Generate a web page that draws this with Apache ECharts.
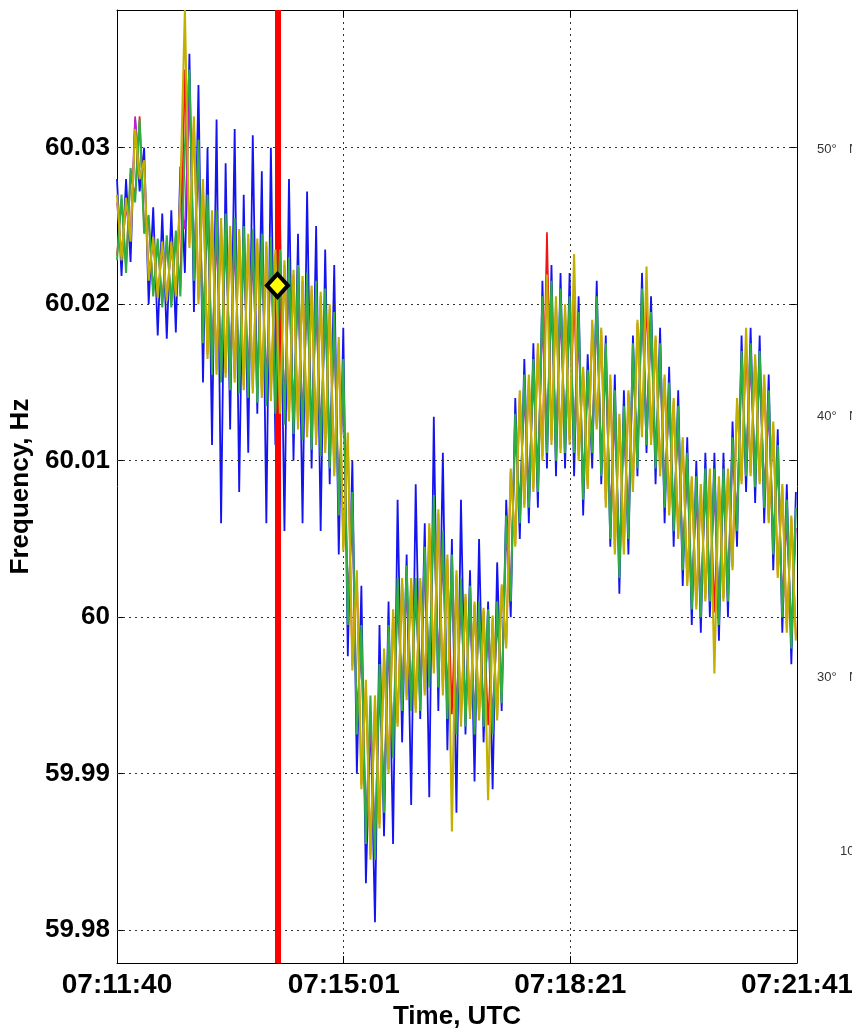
<!DOCTYPE html>
<html><head><meta charset="utf-8">
<script src="https://cdn.jsdelivr.net/npm/echarts@6/dist/echarts.min.js"></script>
<style>html,body{margin:0;padding:0;background:#fff;}#chart{width:852px;height:1028px;}</style>
</head><body><div id="chart"></div>
<script>
// ---- data (time in seconds after 07:11:40 UTC, frequency in Hz) ----
const timeTickLabels = ['07:11:40', '07:15:01', '07:18:21', '07:21:41'];
const timeSpan = 601;
const freqTickValues = [59.98, 59.99, 60, 60.01, 60.02, 60.03];
const freqTickLabels = ['59.98', '59.99', '60', '60.01', '60.02', '60.03'];
const freqMin = 59.9779, freqMax = 60.0388;
const latLabels = ['50°', '40°', '30°'];
const markerTime = 141.8;
const markerFreq = 60.0212;

const times = [0,4,8,12,16,20,24,28,32,36,40,44,48,52,56,60,64,68,72,76,80,84,88,92,96,100,104,108,112,116,120,124,128,132,136,140,144,148,152,156,160,164,168,172,176,180,184,188,192,196,200,204,208,212,216,220,224,228,232,236,240,244,248,252,256,260,264,268,272,276,280,284,288,292,296,300,304,308,312,316,320,324,328,332,336,340,344,348,352,356,360,364,368,372,376,380,384,388,392,396,400,404,408,412,416,420,424,428,432,436,440,444,448,452,456,460,464,468,472,476,480,484,488,492,496,500,504,508,512,516,520,524,528,532,536,540,544,548,552,556,560,564,568,572,576,580,584,588,592,596,600];

const blueHz = [60.028,60.0218,60.028,60.0227,60.0318,60.0272,60.03,60.02,60.0262,60.018,60.0258,60.0178,60.026,60.0182,60.0288,60.022,60.036,60.0195,
60.034,60.015,60.03,60.011,60.0318,60.006,60.029,60.012,60.0312,60.008,60.027,60.0105,60.0308,60.013,60.0285,60.006,60.03,60.011,60.026,60.0055,60.028,60.01,60.0245,60.006,60.0272,60.0095,60.025,60.0055,60.0235,60.0085,60.0225,60.004,60.0185,
59.9975,60.01,59.99,60.002,59.983,59.994,59.9805,59.9995,
59.986,60.001,59.9855,60.0075,59.992,60.004,59.988,60.0085,59.9935,60.006,59.9885,60.0128,59.994,60.0105,59.9915,60.005,59.9875,60.0075,59.9925,60.003,59.9895,60.005,59.992,60.001,59.989,60.0035,59.994,
60.0075,60,60.014,60.005,60.0165,60.006,60.0175,60.007,60.0215,60.0095,60.0225,60.009,60.022,60.0095,60.022,60.009,60.0205,60.0065,60.0168,60.0095,60.0215,60.0085,60.018,60.0045,60.0155,60.0015,60.0145,60.004,60.018,60.009,60.022,60.0105,60.0205,60.0085,60.0185,60.006,60.016,60.0045,60.0145,60.002,60.0115,59.9995,60.01,59.999,60.0105,60,60.0105,59.9985,60.0105,60,60.0125,60.0045,60.018,60.008,60.0185,60.0073,60.018,60.006,60.0155,60.003,60.012,59.999,60.0085,59.997,60.008];

const redHz = [60.0231,60.0267,60.0224,60.0283,60.0269,60.032,60.0249,60.0254,60.0208,60.0239,60.0201,60.0241,60.0201,60.0244,60.021,60.035,60.0239,60.0317,60.0203,60.0277,60.0168,60.0257,60.0158,60.0252,60.0156,60.0247,60.0153,60.0245,60.0148,60.0242,60.0146,60.0239,60.0143,60.0237,60.0141,60.0232,60.0133,60.0225,60.0128,60.0219,60.0123,60.0215,60.0118,60.0209,60.0113,60.0205,60.0108,60.0197,60.0093,60.0176,60.0045,60.0115,59.9969,60.0027,59.9893,59.9957,59.9848,59.9947,59.9868,59.9977,59.9903,60.0003,59.9932,60.0023,59.995,60.0023,59.9942,60.0023,59.9952,60.0057,59.9967,60.0066,59.9953,60.0037,59.9938,60.0027,59.9933,60.0013,59.9937,60.0008,59.9936,60.0004,59.9931,59.9999,59.9936,60.0019,59.9982,60.0093,60.0047,60.0143,60.0072,60.0153,60.0082,60.0173,60.0103,60.0246,60.0113,60.0202,60.0108,60.0198,60.0113,60.0207,60.0103,60.0158,60.0084,60.0188,60.0122,60.0183,60.0073,60.0152,60.0043,60.0127,60.0043,60.0143,60.0083,60.0188,60.0118,60.0203,60.0112,60.0178,60.0092,60.0153,60.0067,60.0138,60.0052,60.0113,60.0022,60.0088,60.0007,60.0083,60.0012,60.0093,60.0003,60.0088,60.0012,60.0093,60.0032,60.0138,60.0087,60.0173,60.0092,60.0166,60.0087,60.0153,60.0062,60.0123,60.0027,60.0083,59.9992,60.0063,59.9987];

const magentaHz = [60.0265,60.0232,60.0262,60.0243,60.032,60.0283,60.0288,60.0219,60.0239,60.0207,60.0235,60.0205,60.0236,60.0208,60.0265,60.0248,60.0332,60.0229,60.0288,60.0189,60.0253,60.0169,60.0243,60.0164,60.0241,60.0159,60.0238,60.0157,60.0233,60.0154,60.0231,60.0151,60.0228,60.0149,60.0226,60.0144,60.0218,60.0137,60.0213,60.0131,60.0208,60.0127,60.0203,60.0121,60.0198,60.0117,60.0193,60.0109,60.0178,60.008,60.0145,60.0011,60.0062,59.9939,59.9979,59.9869,59.9933,59.9859,59.9953,59.9889,59.998,59.9922,60.001,59.9951,60.002,59.9951,60.0012,59.9951,60.003,59.9969,60.006,59.997,60.0039,59.9949,60.0024,59.9939,60.001,59.9941,60.0007,59.9936,59.9998,59.994,59.9993,59.9935,59.9998,59.9955,60.0052,60.0021,60.0117,60.0071,60.0142,60.0081,60.0152,60.0093,60.0189,60.012,60.0199,60.0114,60.0194,60.0118,60.019,60.0119,60.018,60.0086,60.0146,60.0116,60.0192,60.0103,60.0159,60.0064,60.0129,60.0039,60.012,60.0063,60.016,60.0108,60.0195,60.0123,60.0182,60.0106,60.0162,60.0081,60.0137,60.0066,60.0122,60.0041,60.0092,60.0016,60.0077,60.0011,60.0082,60.0021,60.008,60.0008,60.0082,60.0021,60.0102,60.0066,60.0157,60.0101,60.0162,60.0094,60.0157,60.0081,60.0132,60.0051,60.0097,60.0011,60.0062,59.9991,60.0057];

const greenHz = [60.0228,60.027,60.022,60.0287,60.0265,60.0318,60.0245,60.0257,60.0205,60.0242,60.0198,60.0244,60.0198,60.0247,60.0205,60.03,60.035,60.0215,60.0305,60.0175,60.027,60.0155,60.026,60.015,60.0258,60.0145,60.0255,60.0143,60.025,60.014,60.0248,60.0137,60.0245,60.0135,60.0243,60.013,60.0235,60.0123,60.023,60.0117,60.0225,60.0113,60.022,60.0107,60.0215,60.0103,60.021,60.0095,60.0195,60.0065,60.0165,59.9995,60.008,59.9925,59.9995,59.9855,59.995,59.9845,59.997,59.9875,59.9995,59.991,60.0025,59.994,60.0033,59.994,60.0025,59.994,60.0045,59.9955,60.0078,59.9955,60.0055,59.9935,60.004,59.9925,60.0025,59.993,60.002,59.9925,60.001,59.993,60.0005,59.9925,60.001,59.9945,60.0065,60.001,60.013,60.006,60.0155,60.007,60.0165,60.008,60.0205,60.0105,60.0215,60.01,60.021,60.0105,60.0205,60.0105,60.0195,60.0075,60.0158,60.0105,60.0205,60.009,60.0175,60.005,60.0145,60.0025,60.0135,60.005,60.0175,60.0095,60.021,60.011,60.0195,60.0095,60.0175,60.007,60.015,60.0055,60.0135,60.003,60.0105,60.0005,60.009,60,60.0095,60.001,60.0095,59.9995,60.0095,60.001,60.0115,60.0055,60.017,60.009,60.0175,60.0083,60.017,60.007,60.0145,60.004,60.011,60,60.0075,59.998,60.007];

const oliveHz = [60.027,60.0228,60.0268,60.024,60.0312,60.028,60.0292,60.0215,60.0243,60.0204,60.024,60.0202,60.024,60.0205,60.0272,60.0388,60.0236,60.032,60.02,60.028,60.0165,60.026,60.0155,60.0255,60.0153,60.025,60.015,60.0248,60.0145,60.0245,60.0143,60.0242,60.014,60.024,60.0138,60.0235,60.013,60.0228,60.0125,60.0222,60.012,60.0218,60.0115,60.0212,60.011,60.0208,60.0105,60.02,60.009,60.0179,60.0042,60.0118,59.9966,60.003,59.989,59.996,59.9845,59.995,59.9865,59.998,59.99,60.0005,59.993,60.0025,59.9947,60.0025,59.9939,60.0025,59.995,60.006,59.9964,60.0069,59.995,60.004,59.9863,60.003,59.993,60.0015,59.9935,60.001,59.9934,60.0006,59.9883,60.0001,59.9934,60.0021,59.998,60.0095,60.0045,60.0145,60.007,60.0155,60.008,60.0175,60.01,60.0219,60.011,60.0205,60.0105,60.02,60.011,60.0232,60.01,60.016,60.0082,60.019,60.012,60.0185,60.007,60.0155,60.004,60.013,60.004,60.0145,60.008,60.019,60.0115,60.0224,60.011,60.018,60.009,60.0155,60.0065,60.014,60.005,60.0115,60.002,60.009,60.0005,60.0085,60.001,60.0095,59.9964,60.009,60.001,60.0095,60.003,60.014,60.0085,60.0185,60.009,60.0168,60.0085,60.0155,60.006,60.0125,60.0025,60.0085,59.999,60.0065,59.9985];

// ---- chart ----
const FONT = 'Liberation Sans, Arial, Helvetica, sans-serif';
const pairs = arr => times.map((t, i) => [t, arr[i]]);
const lineSeries = (name, arr, color, width, z) => ({
  name, type: 'line', data: pairs(arr), showSymbol: false, symbol: 'none',
  lineStyle: { color, width }, z, silent: true, animation: false, sampling: null
});
const labelFor = v => {
  for (let k = 0; k < freqTickValues.length; k++) if (Math.abs(freqTickValues[k] - v) < 1e-6) return freqTickLabels[k];
  return '';
};
const tickStep = timeSpan / 3;

const chart = echarts.init(document.getElementById('chart'), null, { renderer: 'canvas' });
chart.setOption({
  animation: false,
  backgroundColor: '#fff',
  grid: { left: 117, right: 55, top: 10, bottom: 65, show: false, outerBoundsMode: 'none', containLabel: false },
  xAxis: [{
    type: 'value', min: 0, max: timeSpan, interval: tickStep, position: 'bottom',
    name: 'Time, UTC', nameLocation: 'middle', nameGap: 37,
    nameTextStyle: { fontFamily: FONT, fontWeight: 'bold', fontSize: 26, color: '#000' },
    axisLine: { show: true, onZero: false, lineStyle: { color: '#000', width: 1 } },
    axisTick: { show: true, inside: true, length: 7, lineStyle: { color: '#000' } },
    axisLabel: { show: true, margin: 8, fontFamily: FONT, fontWeight: 'bold', fontSize: 28, color: '#000',
      showMinLabel: true, showMaxLabel: true,
      formatter: v => timeTickLabels[Math.round(v / tickStep)] || '' },
    splitLine: { show: true, lineStyle: { color: '#333', width: 1, type: [2, 4] } }
  }, {
    type: 'value', min: 0, max: timeSpan, interval: tickStep, position: 'top',
    axisLine: { show: true, onZero: false, lineStyle: { color: '#000', width: 1 } },
    axisTick: { show: true, inside: true, length: 7, lineStyle: { color: '#000' } },
    axisLabel: { show: false }, splitLine: { show: false }
  }],
  yAxis: [{
    type: 'value', min: freqMin, max: freqMax, position: 'left',
    name: 'Frequency, Hz', nameLocation: 'middle', nameGap: 82,
    nameTextStyle: { fontFamily: FONT, fontWeight: 'bold', fontSize: 26, color: '#000' },
    axisLine: { show: true, onZero: false, lineStyle: { color: '#000', width: 1 } },
    axisTick: { show: true, inside: true, length: 7, customValues: freqTickValues, lineStyle: { color: '#000' } },
    axisLabel: { show: true, margin: 7, customValues: freqTickValues, fontFamily: FONT, fontWeight: 'bold', fontSize: 26, color: '#000',
      formatter: v => labelFor(v) },
    splitLine: { show: false }
  }, {
    type: 'value', min: freqMin, max: freqMax, position: 'right',
    axisLine: { show: true, onZero: false, lineStyle: { color: '#000', width: 1 } },
    axisTick: { show: true, inside: true, length: 7, customValues: freqTickValues, lineStyle: { color: '#000' } },
    axisLabel: { show: false }, splitLine: { show: false }
  }],
  series: [
    { name: 'grid', type: 'line', data: [[0, 60]], showSymbol: false, symbol: 'none', lineStyle: { opacity: 0 }, z: 1, silent: true,
      markLine: { silent: true, symbol: 'none', animation: false, label: { show: false },
        lineStyle: { color: '#333', width: 1, type: [2, 4] },
        data: freqTickValues.map(v => ({ yAxis: v })) } },
    lineSeries('blue', blueHz, '#1414f0', 1.8, 2),
    lineSeries('red', redHz, '#f01414', 1.7, 3),
    lineSeries('magenta', magentaHz, '#c020c8', 1.7, 4),
    lineSeries('green', greenHz, '#2fae45', 2.0, 5),
    lineSeries('olive', oliveHz, '#c2b000', 2.1, 6),
    { name: 'cursor', type: 'line', data: [[markerTime, markerFreq]], showSymbol: false, symbol: 'none', lineStyle: { opacity: 0 }, z: 8, silent: true,
      markLine: { silent: true, symbol: 'none', animation: false, label: { show: false },
        lineStyle: { color: '#ff0000', width: 6, type: 'solid' },
        data: [{ xAxis: markerTime }] } },
    { name: 'marker', type: 'scatter', data: [[markerTime, markerFreq]], symbol: 'diamond', symbolSize: [21, 23], z: 10,
      itemStyle: { color: '#ffff00', borderColor: '#000', borderWidth: 4, opacity: 1 }, silent: true }
  ],
  graphic: [
    { type: 'text', left: 817, top: 143, style: { text: latLabels[0], font: '13px ' + FONT, fill: '#333' } },
    { type: 'text', left: 849, top: 143, style: { text: 'N', font: '13px ' + FONT, fill: '#333' } },
    { type: 'text', left: 817, top: 410, style: { text: latLabels[1], font: '13px ' + FONT, fill: '#333' } },
    { type: 'text', left: 849, top: 410, style: { text: 'N', font: '13px ' + FONT, fill: '#333' } },
    { type: 'text', left: 817, top: 671, style: { text: latLabels[2], font: '13px ' + FONT, fill: '#333' } },
    { type: 'text', left: 849, top: 671, style: { text: 'N', font: '13px ' + FONT, fill: '#333' } },
    { type: 'text', left: 840, top: 845, style: { text: '10', font: '13px ' + FONT, fill: '#333' } }
  ]
});
</script></body></html>
